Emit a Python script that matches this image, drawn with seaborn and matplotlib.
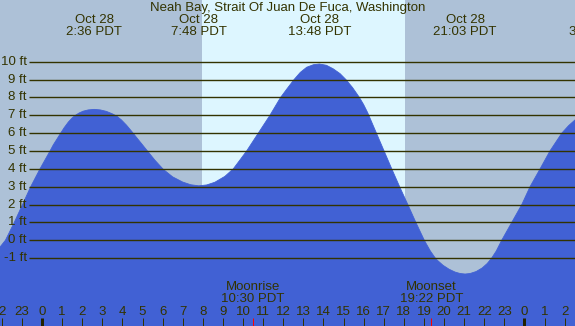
import matplotlib
matplotlib.use("Agg")
import matplotlib.pyplot as plt
import seaborn as sns
import pandas as pd

# ---- data ----
tide_hours = [-2.09, -1.82, -1.38, -0.97, -0.562, -0.100, 0.398, 0.56, 0.93, 1.1, 1.31, 1.5,
              1.64, 1.85, 2.05, 2.3, 2.6, 2.9, 3.2, 3.5, 3.72, 3.95, 4.2, 4.46, 4.7, 4.96,
              5.209, 5.62, 6.035, 6.5, 7.0, 7.4, 7.8, 8.2, 8.6, 9.1, 9.517, 9.85, 10.18, 10.76,
              11.34, 11.87, 12.2, 12.54, 12.85, 13.17, 13.5, 13.8, 14.15, 14.49, 14.83, 15.12,
              15.45, 15.79, 16.0, 16.2, 16.6, 17.0, 17.4, 17.8, 18.2, 18.6, 19.02, 19.32, 19.6,
              19.95, 20.25, 20.55, 20.8, 21.05, 21.3, 21.6, 21.9, 22.15, 22.37, 22.6, 22.87,
              23.37, 23.87, 24.28, 24.78, 25.27, 25.86, 26.2, 26.52]
tide_ft = [-0.38, 0, 1, 2, 3, 4, 5, 5.34, 6.0, 6.3, 6.62, 6.85,
           6.98, 7.13, 7.23, 7.30, 7.33, 7.30, 7.22, 7.08, 6.95, 6.74, 6.45, 6.1, 5.76, 5.4,
           5.05, 4.48, 3.97, 3.55, 3.26, 3.11, 3.05, 3.1, 3.25, 3.58, 4.0, 4.5, 5, 6,
           7, 8, 8.5, 9.0, 9.4, 9.69, 9.83, 9.87, 9.8, 9.6, 9.33, 9.0,
           8.55, 8.0, 7.6, 7.15, 6.1, 5.05, 4.0, 2.98, 2.0, 1.0, 0.0, -0.6, -1.05,
           -1.4, -1.62, -1.78, -1.86, -1.89, -1.86, -1.75, -1.55, -1.3, -1.0, -0.6, 0,
           1, 2, 3, 4, 5, 6, 6.42, 6.74]

extreme_hours = [2.6, 7.8, 13.8, 21.05, 27.6]
extreme_labels = ["Oct 28\n2:36 PDT", "Oct 28\n7:48 PDT", "Oct 28\n13:48 PDT",
                  "Oct 28\n21:03 PDT", "Oct 29\n3:36 PDT"]

level_ft = [10, 9, 8, 7, 6, 5, 4, 3, 2, 1, 0, -1]
level_labels = ["10 ft", "9 ft", "8 ft", "7 ft", "6 ft", "5 ft", "4 ft", "3 ft", "2 ft",
                "1 ft", "0 ft", "-1 ft"]

hour_ticks = list(range(-2, 27))
hour_labels = ["2", "23"] + [str(h) for h in range(24)] + ["0", "1", "2"]
midnight_ticks = [0, 24]

sunrise, sunset = 7.96, 18.06
moon_hours = [10.5, 19.37]
moon_labels = ["Moonrise\n10:30 PDT", "Moonset\n19:22 PDT"]

title = "Neah Bay, Strait Of Juan De Fuca, Washington"

# ---- style ----
night = "#adc1d7"
day = "#ddf6ff"
water = "#4161d4"
ink = "#333300"

sns.set_theme(style="white")
plt.rcParams["font.family"] = ["Liberation Sans", "DejaVu Sans"]

fig = plt.figure(figsize=(5.75, 3.26), dpi=100)
ax = fig.add_axes([0, 0, 1, 1])
ax.set_facecolor(night)
ax.set_xlim(-2.09, 26.517)
ax.set_ylim(-4.80, 13.455)
for s in ax.spines.values():
    s.set_visible(False)
ax.set_xticks([])
ax.set_yticks([])

ax.axvspan(sunrise, sunset, color=day, lw=0, zorder=0)

df = pd.DataFrame({"hour": tide_hours, "ft": tide_ft})
ax.fill_between(df["hour"], df["ft"], -10, color=water, lw=0, zorder=1)
sns.lineplot(data=df, x="hour", y="ft", ax=ax, color=water, lw=0.6, zorder=1,
             estimator=None, sort=False)
ax.set_xlabel("")
ax.set_ylabel("")

# level lines and labels
fs = 9.5
x_line_start = -0.647
ax.hlines(level_ft, x_line_start, 30, colors=ink, lw=1.0, zorder=2)
for v, lab in zip(level_ft, level_labels):
    ax.text(-0.75, v, lab, ha="right", va="center", fontsize=fs, color=ink, zorder=3)

# titles
ax.text(0.5, 1 - 7.5 / 326, title, transform=ax.transAxes, ha="center", va="center",
        fontsize=fs, color=ink, zorder=3)
xt = ax.get_xaxis_transform()
for h, lab in zip(extreme_hours, extreme_labels):
    d, t = lab.split("\n")
    ax.text(h, 1 - 20 / 326, d, transform=xt, ha="center", va="center", fontsize=fs,
            color=ink, zorder=3)
    ax.text(h, 1 - 32 / 326, t, transform=xt, ha="center", va="center", fontsize=fs,
            color=ink, zorder=3)

# hour ticks
tick_top = 8 / 326
for h, lab in zip(hour_ticks, hour_labels):
    w = 3 if h in midnight_ticks else 1
    ax.vlines(h, 0, tick_top, transform=xt, colors=ink if w == 1 else "#222200", lw=w * 0.72,
              zorder=3)
    ax.text(h, 1 - 312 / 326, lab, transform=xt, ha="center", va="center", fontsize=fs,
            color=ink, zorder=3)

for h, lab in zip(moon_hours, moon_labels):
    ax.vlines(h, 0, tick_top, transform=xt, colors="red", lw=0.72, zorder=3)
    a, b = lab.split("\n")
    ax.text(h, 1 - 287.5 / 326, a, transform=xt, ha="center", va="center", fontsize=fs,
            color=ink, zorder=3)
    ax.text(h, 1 - 299.5 / 326, b, transform=xt, ha="center", va="center", fontsize=fs,
            color=ink, zorder=3)

fig.savefig("out.png", dpi=100)
